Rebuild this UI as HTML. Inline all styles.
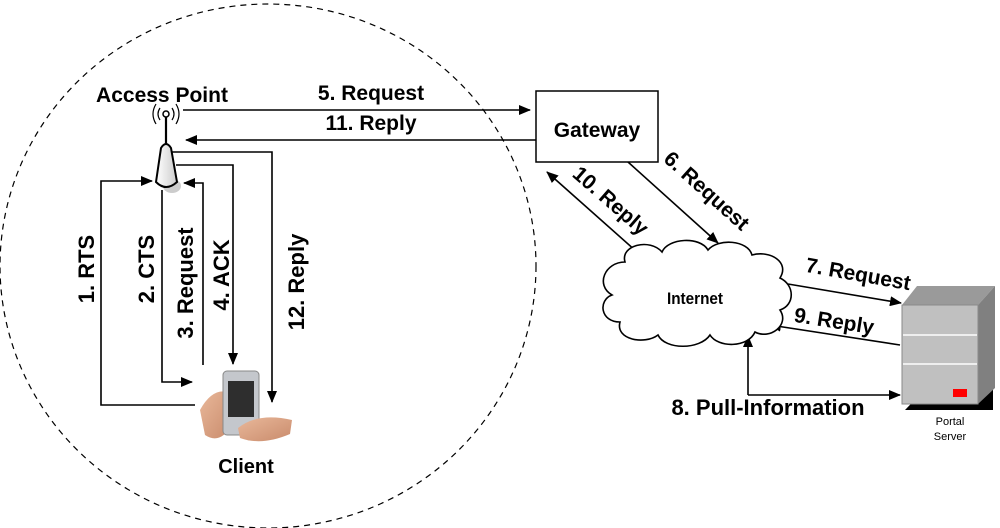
<!DOCTYPE html>
<html><head><meta charset="utf-8"><style>
html,body{margin:0;padding:0;background:#fff;}
svg{display:block;}
text{font-family:"Liberation Sans",Arial,sans-serif;font-weight:bold;fill:#000;}
</style></head><body>
<svg width="1000" height="528" viewBox="0 0 1000 528" xmlns="http://www.w3.org/2000/svg">
<defs>
<marker id="a" markerWidth="12" markerHeight="10" refX="11" refY="5" orient="auto" markerUnits="userSpaceOnUse">
<path d="M0,0 L12,5 L0,10 Z" fill="#000"/></marker>
<linearGradient id="skin" x1="0" y1="0" x2="1" y2="1"><stop offset="0" stop-color="#e9b89a"/><stop offset="1" stop-color="#c98b6c"/></linearGradient>
<linearGradient id="cone" x1="0" y1="0" x2="1" y2="0"><stop offset="0" stop-color="#fff"/><stop offset="1" stop-color="#ccc"/></linearGradient>
</defs>
<ellipse cx="268" cy="266" rx="268" ry="262" fill="none" stroke="#000" stroke-width="1.2" stroke-dasharray="6,5"/>
<g stroke="#000" stroke-width="1.6" fill="none">
<line x1="183" y1="110" x2="530" y2="110" marker-end="url(#a)"/>
<line x1="536" y1="140" x2="186" y2="140" marker-end="url(#a)"/>
<polyline points="172,152 272,152 272,402" marker-end="url(#a)"/>
<polyline points="176,165 233,165 233,364" marker-end="url(#a)"/>
<polyline points="203,365 203,183 184,183" marker-end="url(#a)"/>
<polyline points="162,190 162,382 192,382" marker-end="url(#a)"/>
<polyline points="195,405 101,405 101,181 152,181" marker-end="url(#a)"/>
<line x1="637" y1="252" x2="547" y2="172" marker-end="url(#a)"/>
<line x1="628" y1="162" x2="718" y2="243" marker-end="url(#a)"/>
<line x1="788" y1="284" x2="901" y2="303" marker-end="url(#a)"/>
<line x1="900" y1="345" x2="770" y2="325" marker-end="url(#a)"/>
<polyline points="748,395 748,336" marker-end="url(#a)"/>
<polyline points="748,395 900,395" marker-end="url(#a)"/>
</g>
<rect x="536" y="91" width="122" height="71" fill="#fff" stroke="#000" stroke-width="1.5"/>
<text x="597" y="137" font-size="21" text-anchor="middle">Gateway</text>
<path d="M625,262 C620,245 650,238 662,252 C668,238 700,236 708,250 C718,238 748,240 752,255 C770,250 790,262 780,278 C795,285 795,305 780,310 C790,325 770,340 755,332 C748,348 718,348 710,335 C700,350 665,350 658,335 C645,345 615,340 620,322 C600,322 598,300 612,295 C595,285 605,262 625,262 Z" fill="#fff" stroke="#000" stroke-width="1.6"/>
<text x="695" y="304" font-size="17" text-anchor="middle" transform="translate(695,0) scale(0.9,1) translate(-695,0)">Internet</text>
<polygon points="905,410 993,410 993,330 982,330" fill="#000"/>
<polygon points="902,305 917,286 995,286 978,305" fill="#9a9a9a"/>
<polygon points="978,305 995,286 995,388 978,404" fill="#808080"/>
<rect x="902" y="305" width="76" height="99" fill="#c0c0c0" stroke="#8a8a8a" stroke-width="1"/>
<line x1="903" y1="335" x2="977" y2="335" stroke="#eee" stroke-width="2"/>
<line x1="903" y1="364" x2="977" y2="364" stroke="#eee" stroke-width="2"/>
<rect x="953" y="389" width="14" height="8" fill="#f00"/>
<text x="950" y="425" font-size="11" text-anchor="middle" style="font-weight:normal">Portal</text>
<text x="950" y="440" font-size="11" text-anchor="middle" style="font-weight:normal">Server</text>
<ellipse cx="172" cy="186" rx="9" ry="7" fill="#ccc"/>
<path d="M156,182 L161,148 Q166,140 171,148 L177,182 Q166,192 156,182 Z" fill="url(#cone)" stroke="#000" stroke-width="2"/>
<line x1="166" y1="116" x2="166" y2="144" stroke="#000" stroke-width="2.2"/>
<circle cx="166" cy="114" r="3" fill="#fff" stroke="#000" stroke-width="1.5"/>
<path d="M160,108 Q156,114 160,120 M172,108 Q176,114 172,120 M156,104 Q150,114 156,124 M176,104 Q182,114 176,124" fill="none" stroke="#000" stroke-width="1.2"/>
<path d="M200,410 Q212,388 228,392 L232,425 Q220,445 205,435 Z" fill="url(#skin)"/>
<rect x="223" y="371" width="36" height="64" rx="4" fill="#c4c7cc" stroke="#888"/>
<rect x="228" y="381" width="26" height="36" fill="#2e2e2e"/>
<path d="M238,428 Q258,412 292,420 L290,434 Q262,446 240,438 Z" fill="url(#skin)"/>
<text x="162" y="102" font-size="21" text-anchor="middle">Access Point</text>
<text x="246" y="473" font-size="20" text-anchor="middle">Client</text>
<text x="371" y="100" font-size="21" text-anchor="middle">5. Request</text>
<text x="371" y="130" font-size="21" text-anchor="middle">11. Reply</text>
<text transform="translate(94,269) rotate(-90)" font-size="22" text-anchor="middle">1. RTS</text>
<text transform="translate(154,269) rotate(-90)" font-size="22" text-anchor="middle">2. CTS</text>
<text transform="translate(193,283) rotate(-90)" font-size="22" text-anchor="middle">3. Request</text>
<text transform="translate(229,275) rotate(-90)" font-size="22" text-anchor="middle">4. ACK</text>
<text transform="translate(304,282) rotate(-90)" font-size="22" text-anchor="middle">12. Reply</text>
<text transform="translate(606,206) rotate(41)" font-size="21" text-anchor="middle">10. Reply</text>
<text transform="translate(702,196) rotate(42)" font-size="21" text-anchor="middle">6. Request</text>
<text transform="translate(857,281) rotate(10)" font-size="21" text-anchor="middle">7. Request</text>
<text transform="translate(833,328) rotate(9)" font-size="21" text-anchor="middle">9. Reply</text>
<text x="768" y="415" font-size="22" text-anchor="middle">8. Pull-Information</text>
</svg>
</body></html>
